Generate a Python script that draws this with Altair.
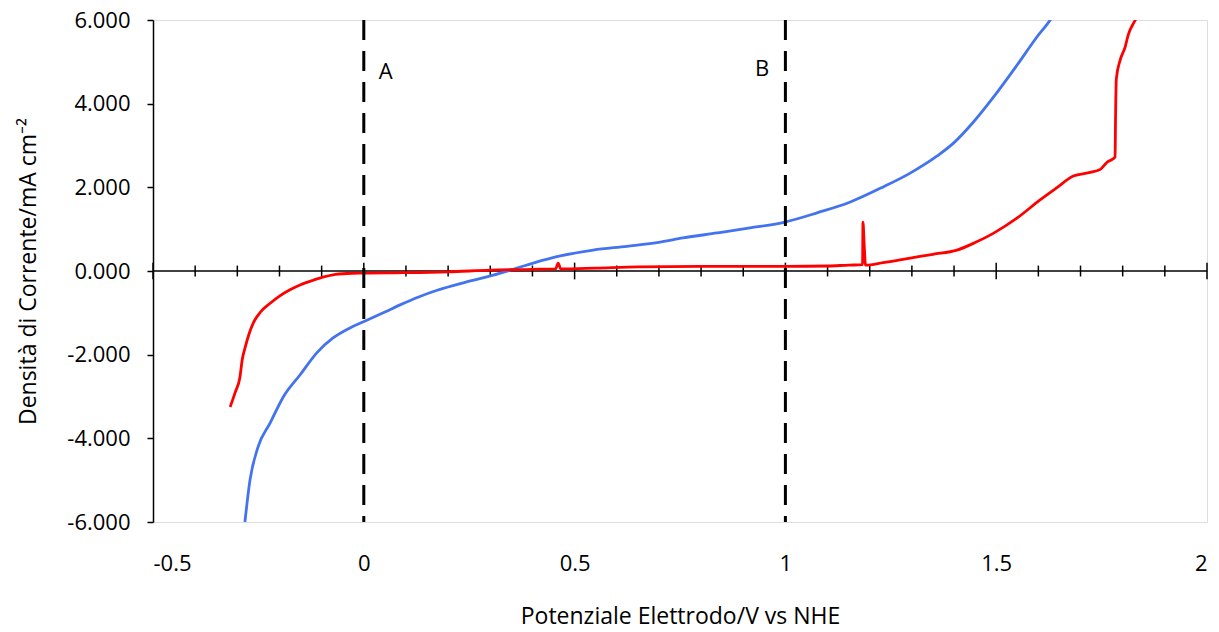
import altair as alt
import pandas as pd

# ---- data ----
blue_v = [-0.282, -0.27, -0.251, -0.222, -0.191, -0.151, -0.111, -0.073, -0.033, -0.002,
          0.05, 0.086, 0.13, 0.174, 0.24, 0.307, 0.347, 0.402, 0.466, 0.544, 0.624,
          0.703, 0.757, 0.838, 0.916, 0.999, 1.075, 1.154, 1.232, 1.296, 1.36, 1.398,
          1.445, 1.493, 1.55, 1.597, 1.628, 1.64]
blue_j = [-6.0, -5.0, -4.21, -3.63, -3.01, -2.48, -1.95, -1.6, -1.36, -1.22,
          -0.98, -0.81, -0.62, -0.46, -0.27, -0.1, 0.02, 0.19, 0.36, 0.5, 0.59,
          0.69, 0.79, 0.91, 1.03, 1.17, 1.39, 1.65, 2.01, 2.34, 2.75, 3.05,
          3.55, 4.15, 4.93, 5.6, 6.0, 6.2]

red_v = [-0.317, -0.305, -0.294, -0.288, -0.282, -0.272, -0.262, -0.245, -0.222, -0.2,
         -0.175, -0.15, -0.12, -0.095, -0.073, -0.04, 0.0, 0.1, 0.2, 0.3, 0.4,
         0.455, 0.461, 0.467, 0.55, 0.65, 0.8, 1.0, 1.1, 1.15, 1.183, 1.184, 1.187,
         1.19, 1.232, 1.296, 1.35, 1.407, 1.45, 1.493, 1.55, 1.604, 1.645, 1.683,
         1.72, 1.747, 1.763, 1.782, 1.783, 1.785, 1.794, 1.806, 1.813, 1.83, 1.84]
red_j = [-3.25, -2.9, -2.55, -2.1, -1.85, -1.5, -1.24, -0.98, -0.77, -0.6,
         -0.45, -0.33, -0.22, -0.14, -0.09, -0.06, -0.05, -0.04, -0.02, 0.02, 0.04,
         0.05, 0.19, 0.05, 0.07, 0.1, 0.11, 0.11, 0.12, 0.14, 0.15, 1.17, 0.6,
         0.14, 0.2, 0.31, 0.4, 0.5, 0.68, 0.9, 1.27, 1.7, 2.0, 2.27,
         2.35, 2.43, 2.6, 2.72, 3.6, 4.6, 5.04, 5.36, 5.64, 6.0, 6.2]

x_ticks = [-0.5, 0, 0.5, 1, 1.5, 2]
y_ticks = [-6, -4, -2, 0, 2, 4, 6]
minor_ticks = [-0.4, -0.3, -0.2, -0.1, 0.1, 0.2, 0.3, 0.4, 0.6, 0.7, 0.8, 0.9,
               1.1, 1.2, 1.3, 1.4, 1.6, 1.7, 1.8, 1.9]
major_ticks = [-0.5, 0, 0.5, 1, 1.5, 2]
ref_lines = [0, 1]
label_text = ["A", "B"]
label_v = [0.052, 0.945]
label_j = [4.76, 4.83]

FONT = "Open Sans"

blue_df = pd.DataFrame({"v": blue_v, "j": blue_j})
red_df = pd.DataFrame({"v": red_v, "j": red_j})
minor_df = pd.DataFrame({"v": minor_ticks})
major_df = pd.DataFrame({"v": major_ticks})
ref_df = pd.DataFrame({"v": ref_lines})
lab_df = pd.DataFrame({"t": label_text, "v": label_v, "j": label_j})

xscale = alt.Scale(domain=[-0.5, 2], nice=False, zero=False)
yscale = alt.Scale(domain=[-6, 6], nice=False, zero=False)

x_axis = alt.Axis(values=x_ticks, labelExpr="'' + datum.value", domain=False, ticks=False,
                  grid=False, labelFontSize=22, labelFont=FONT, labelColor="black",
                  labelPadding=31, title="Potenziale Elettrodo/V vs NHE",
                  titleFont=FONT, titleFontSize=23, titleFontWeight="normal",
                  titleColor="black", titlePadding=31)
y_axis = alt.Axis(values=y_ticks, labelExpr="replace(format(datum.value, '.3f'), '\u2212', '-')",
                  domain=True, domainColor="black", domainWidth=1.5, ticks=True,
                  tickColor="black", tickSize=6, tickWidth=1.5, grid=False,
                  labelFontSize=22, labelFont=FONT, labelColor="black", labelPadding=17,
                  title="Densità di Corrente/mA cm\u207b\u00b2", titleFont=FONT,
                  titleFontSize=23, titleFontWeight="normal", titleColor="black",
                  titlePadding=26)

X = lambda: alt.X("v:Q", scale=xscale, axis=x_axis)
Y = lambda: alt.Y("j:Q", scale=yscale, axis=y_axis)

zero_line = alt.Chart(pd.DataFrame({"j": [0]})).mark_rule(color="black", strokeWidth=1.5).encode(
    y=alt.Y("j:Q", scale=yscale, axis=y_axis))

minor = alt.Chart(minor_df).mark_rule(color="black", strokeWidth=1.5).encode(
    x=X(), y=alt.datum(-0.13, scale=yscale), y2=alt.datum(0.13))
major = alt.Chart(major_df).mark_rule(color="black", strokeWidth=1.5).encode(
    x=X(), y=alt.datum(-0.2, scale=yscale), y2=alt.datum(0.2))

blue = alt.Chart(blue_df).mark_line(color="#4373ef", strokeWidth=2.8, clip=True,
                                    interpolate="monotone").encode(x=X(), y=Y(), order="v:Q")
red = alt.Chart(red_df).mark_line(color="#ff0000", strokeWidth=2.8, clip=True,
                                  interpolate="monotone").encode(x=X(), y=Y(), order="v:Q")

refs = alt.Chart(ref_df).mark_rule(color="black", strokeWidth=3, strokeDash=[20, 11]).encode(
    x=X())

labels = alt.Chart(lab_df).mark_text(font=FONT, fontSize=22, color="black").encode(
    x=X(), y=Y(), text="t:N")

chart = alt.layer(zero_line, minor, major, blue, red, refs, labels).properties(
    width=1054, height=502,
    autosize=alt.AutoSizeParams(type="none"),
    padding={"left": 153, "top": 20, "right": 12, "bottom": 110},
).configure_view(stroke="#a0a0a0", strokeWidth=1.5).configure(background="white")

chart.save("out.html", embed_options={"renderer": "svg", "actions": False})
